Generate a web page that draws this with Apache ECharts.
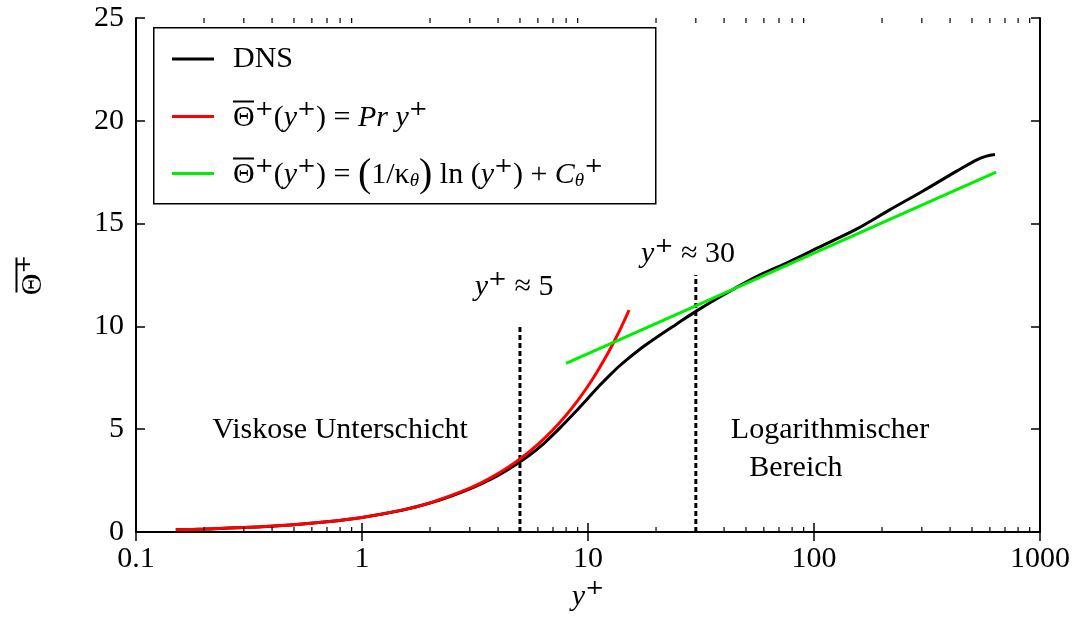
<!DOCTYPE html>
<html><head><meta charset="utf-8">
<script src="https://cdn.jsdelivr.net/npm/echarts@6/dist/echarts.min.js"></script>
<style>html,body{margin:0;padding:0;background:#fff}#c{width:1083px;height:626px}</style>
</head><body><div id="c"></div>
<script>
// ---- data ----
const dnsYp    = [0.15, 0.2, 0.3, 0.5, 0.7, 1, 1.5, 2, 2.5, 3, 3.5, 4, 4.75, 5.5, 6.35, 7.5, 8.9, 10, 11.2, 12.5, 13.7, 15, 17.6, 20, 24.7, 30, 40, 55.7, 78, 110, 154, 217, 305, 428, 525, 580, 632];
const dnsTheta = [0.107, 0.142, 0.213, 0.355, 0.497, 0.71, 1.06, 1.41, 1.76, 2.1, 2.43, 2.75, 3.25, 3.73, 4.29, 5.05, 5.9, 6.51, 7.1, 7.63, 8.05, 8.42, 9.02, 9.45, 10.12, 10.73, 11.55, 12.42, 13.15, 13.95, 14.73, 15.68, 16.6, 17.55, 18.1, 18.28, 18.36];
const linYp    = [0.15, 0.2, 0.3, 0.5, 0.7, 1, 1.5, 2, 3, 4, 5, 6, 7, 8, 9, 10, 11, 12, 13, 14, 15.2];
const linTheta = [0.107, 0.142, 0.213, 0.355, 0.497, 0.71, 1.065, 1.42, 2.13, 2.84, 3.55, 4.26, 4.97, 5.68, 6.39, 7.1, 7.81, 8.52, 9.23, 9.94, 10.79];
const logYp    = [8, 30, 100, 300, 640];
const logTheta = [8.2, 11.0, 13.56, 15.9, 17.5];
const markerYp  = [5, 30];
const markerTop = [10, 12.5];
const noteX = [4.71, 27.7, 0.8, 117.7, 83.2];
const noteY = [11.9, 13.5, 4.97, 4.97, 3.12];
const noteText = ['{i|y}{sp|⁺} ≈ 5', '{i|y}{sp|⁺} ≈ 30', 'Viskose Unterschicht', 'Logarithmischer', 'Bereich'];
const xMinorTicks = [0.2,0.3,0.4,0.5,0.6,0.7,0.8,0.9, 2,3,4,5,6,7,8,9, 20,30,40,50,60,70,80,90, 200,300,400,500,600,700,800,900];

const FONT = '"Liberation Serif", "DejaVu Serif", serif';
const FS = 30;
const LH = 30;
const richBase = {
  i: {fontFamily: FONT, fontSize: FS, fontStyle: 'italic', color: '#000', lineHeight: LH},
  n: {fontFamily: FONT, fontSize: FS, color: '#000', lineHeight: LH},
  sp: {fontFamily: '"DejaVu Serif"', fontSize: 36, color: '#000', lineHeight: LH},
  sb: {fontFamily: FONT, fontSize: 19, fontStyle: 'italic', color: '#000', verticalAlign: 'bottom', lineHeight: 14},
  big: {fontFamily: FONT, fontSize: 40, color: '#000', lineHeight: LH},
  ov: {width: 21, height: 2, lineHeight: 3, backgroundColor: '#000', fontSize: 2},
  ovc: {width: 21, height: 2, lineHeight: 3, backgroundColor: '#000', fontSize: 2, padding: [0, 14, 0, 0]}
};

const dnsData = dnsYp.map((x, k) => [x, dnsTheta[k]]);
const linData = linYp.map((x, k) => [x, linTheta[k]]);
const logData = logYp.map((x, k) => [x, logTheta[k]]);
const noteData = noteX.map((x, k) => [x, noteY[k], noteText[k]]);

const legendNames = {
  'DNS': '{n|DNS}',
  'lin': '{ov| }\n{n|Θ}{sp|⁺}{n|(}{i|y}{sp|⁺}{n|) = }{i|Pr y}{sp|⁺}',
  'log': '{ov| }\n{n|Θ}{sp|⁺}{n|(}{i|y}{sp|⁺}{n|) = }{big|(}{n|1/κ}{sb|θ}{big|)}{n| ln (}{i|y}{sp|⁺}{n|) + }{i|C}{sb|θ}{sp|⁺}'
};
const legendRows = ['DNS', 'lin', 'log'];
const legendTops = [44, 100, 155];

const chart = echarts.init(document.getElementById('c'), null, {renderer: 'canvas'});
const grid = {left: 136, right: 43, top: 18, bottom: 94};

const series = [
  {name: 'DNS', type: 'line', data: dnsData, smooth: 0.35, symbol: 'none', lineStyle: {color: '#000', width: 3}, itemStyle: {color: '#000'}, z: 3},
  {name: 'lin', type: 'line', data: linData, smooth: 0.3, symbol: 'none', lineStyle: {color: '#ff0000', width: 3}, itemStyle: {color: '#ff0000'}, z: 4},
  {name: 'log', type: 'line', data: logData, symbol: 'none', lineStyle: {color: '#00ee00', width: 3}, itemStyle: {color: '#00ee00'}, z: 5}
];
markerYp.forEach((x, k) => {
  series.push({name: 'm' + k, type: 'line', data: [[x, 0], [x, markerTop[k]]], symbol: 'none',
    lineStyle: {color: '#000', width: 3, type: [5, 3]}, z: 2, silent: true});
});
series.push({
  name: 'notes', type: 'scatter', data: noteData, symbolSize: 1, itemStyle: {color: 'rgba(0,0,0,0)', opacity: 1},
  label: {show: true, position: 'inside', opacity: 1, formatter: p => p.data[2], fontFamily: FONT, fontSize: FS, color: '#000', rich: richBase},
  silent: true, z: 6
});
series.push({
  name: 'minor', type: 'custom', data: xMinorTicks.map(v => [v, 0]), clip: false, silent: true, z: 7,
  renderItem: function (params, api) {
    const v = api.value(0);
    const a = api.coord([v, 0]);
    const b = api.coord([v, 25]);
    return {type: 'group', children: [
      {type: 'line', shape: {x1: a[0], y1: a[1], x2: a[0], y2: a[1] - 5}, style: {stroke: '#000', lineWidth: 1.2}},
      {type: 'line', shape: {x1: b[0], y1: b[1], x2: b[0], y2: b[1] + 5}, style: {stroke: '#000', lineWidth: 1.2}}
    ]};
  }
});

const legends = legendRows.map((name, k) => ({
  data: [name],
  orient: 'vertical', left: 172, top: legendTops[k], padding: 0,
  itemWidth: 42, itemHeight: 4,
  icon: 'path://M0,0 L42,0 L42,3 L0,3 Z',
  formatter: n => legendNames[n],
  textStyle: {fontFamily: FONT, fontSize: FS, color: '#000', padding: [0, 0, 0, 14], rich: richBase},
  selectedMode: false, z: 10
}));

const axisLineStyle = {show: true, lineStyle: {color: '#000', width: 2}};
const option = {
  backgroundColor: '#fff',
  animation: false,
  grid: grid,
  graphic: [{type: 'rect', left: 153, top: 27, shape: {width: 502, height: 176}, style: {fill: '#fff', stroke: '#000', lineWidth: 1.5}, z: 1}],
  legend: legends,
  xAxis: [
    {type: 'log', logBase: 10, min: 0.1, max: 1000, position: 'bottom',
     axisLine: axisLineStyle, axisTick: {inside: true, length: 9, lineStyle: {color: '#000', width: 1.5}},
     axisLabel: {fontFamily: FONT, fontSize: FS, color: '#000', margin: 12, formatter: v => String(v)},
     splitLine: {show: false},
     name: '{i|y}{sp|⁺}', nameLocation: 'middle', nameGap: 46,
     nameTextStyle: {fontFamily: FONT, fontSize: FS, color: '#000', rich: richBase}},
    {type: 'log', logBase: 10, min: 0.1, max: 1000, position: 'top',
     axisLine: axisLineStyle, axisTick: {inside: true, length: 9, lineStyle: {color: '#000', width: 1.5}},
     axisLabel: {show: false}, splitLine: {show: false}}
  ],
  yAxis: [
    {type: 'value', min: 0, max: 25, interval: 5, position: 'left',
     axisLine: axisLineStyle, axisTick: {inside: true, length: 9, lineStyle: {color: '#000', width: 1.5}},
     axisLabel: {fontFamily: FONT, fontSize: FS, color: '#000', margin: 12},
     splitLine: {show: false},
     name: '{ovc| }\n{n|Θ}{sp|⁺}', nameLocation: 'middle', nameGap: 88, nameRotate: 90,
     nameTextStyle: {fontFamily: FONT, fontSize: FS, color: '#000', rich: richBase}},
    {type: 'value', min: 0, max: 25, interval: 5, position: 'right',
     axisLine: axisLineStyle, axisTick: {inside: true, length: 9, lineStyle: {color: '#000', width: 1.5}},
     axisLabel: {show: false}, splitLine: {show: false}}
  ],
  series: series
};
chart.setOption(option);
</script></body></html>
